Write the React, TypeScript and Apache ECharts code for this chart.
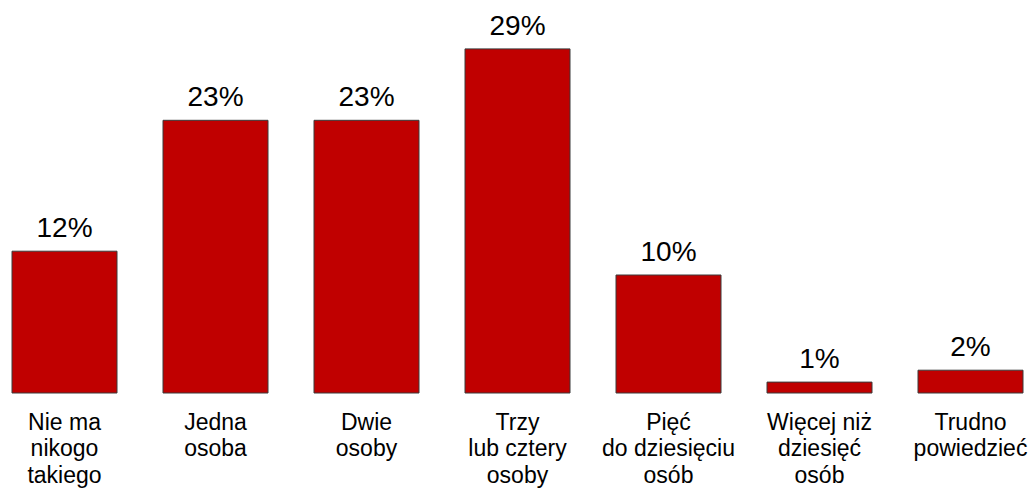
import React, { useEffect, useRef } from "react";
import * as echarts from "echarts";

const categories: string[] = [
  "Nie ma\nnikogo\ntakiego",
  "Jedna\nosoba",
  "Dwie\nosoby",
  "Trzy\nlub cztery\nosoby",
  "Pięć\ndo dziesięciu\nosób",
  "Więcej niż\ndziesięć\nosób",
  "Trudno\npowiedzieć",
];
const values: number[] = [12, 23, 23, 29, 10, 1, 2];

export default function App() {
  const ref = useRef<HTMLDivElement>(null);
  useEffect(() => {
    if (!ref.current) return;
    const chart = echarts.init(ref.current, null, { renderer: "svg" });
    chart.setOption({
      animation: false,
      grid: { left: 0, right: 0, top: 36.5, bottom: 93.5, containLabel: false },
      xAxis: {
        type: "category",
        data: categories,
        axisLine: { show: false },
        axisTick: { show: false },
        axisLabel: {
          interval: 0,
          margin: 15,
          color: "#000",
          fontFamily: "Liberation Sans, Arial, sans-serif",
          fontSize: 23,
          lineHeight: 26.5,
        },
      },
      yAxis: {
        type: "value",
        min: 0,
        max: 30,
        show: false,
        splitLine: { show: false },
      },
      series: [
        {
          type: "bar",
          data: values,
          barWidth: 106,
          itemStyle: { color: "#C00000", borderColor: "#3a3a3a", borderWidth: 1 },
          label: {
            show: true,
            position: "top",
            distance: 9,
            formatter: "{c}%",
            color: "#000",
            fontFamily: "Liberation Sans, Arial, sans-serif",
            fontSize: 28,
          },
        },
      ],
    });
    return () => chart.dispose();
  }, []);
  return (
    <div
      style={{
        position: "absolute",
        left: 0,
        top: 0,
        width: 1028,
        height: 488,
        overflow: "hidden",
        background: "#fff",
      }}
    >
      <div
        ref={ref}
        style={{ position: "absolute", left: -11.5, top: 0, width: 1057, height: 488 }}
      />
    </div>
  );
}
